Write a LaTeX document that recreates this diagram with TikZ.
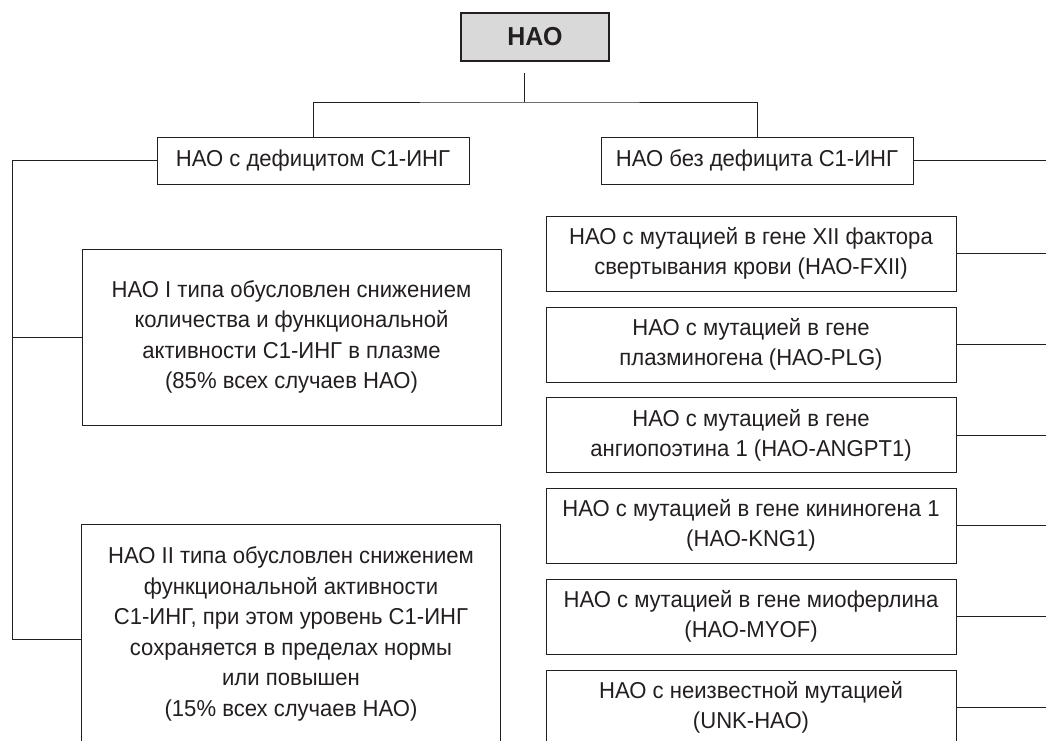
\documentclass[tikz,border=0pt]{standalone}
\usepackage{fontspec}
\setmainfont{Liberation Sans}[FakeStretch=0.96]
\definecolor{ink}{HTML}{231F20}
\definecolor{boxgray}{HTML}{D9D9D9}
\tikzset{
  head/.style={draw=ink, line width=1.6pt, fill=boxgray, minimum width=148pt, minimum height=48pt, text=ink, font=\fontsize{26}{30}\selectfont\bfseries},
  group/.style={draw=ink, line width=1pt, minimum width=312pt, minimum height=47pt, text=ink, font=\fontsize{23}{29.5}\selectfont},
  leaf/.style={draw=ink, line width=1pt, align=center, inner sep=0pt, minimum width=410pt, minimum height=75pt, text=ink, font=\fontsize{23}{30}\selectfont},
  wide/.style={leaf, minimum width=419pt, font=\fontsize{23}{30.5}\selectfont},
  link/.style={draw=ink, line width=1pt}
}
\begin{document}
\begin{tikzpicture}[x=1pt, y=-1pt]
    \useasboundingbox (0,0) rectangle (1046,740);
    % top level
    \node[head] (hao) at (535,37) {НАО};
    \node[group] (def) at (313,160.5) {НАО с дефицитом С1-ИНГ};
    \node[group] (nodef) at (757,160.5) {НАО без дефицита С1-ИНГ};
    \coordinate (top) at (524,73);
    \coordinate (fork) at (524,102);
    \draw[link] (top) -- (fork);
    \draw[link] (def.north) |- (fork) -| (nodef.north);
    % with deficit
    \node[wide, minimum height=176pt] (t1) at (291.5,337) {НАО I типа обусловлен снижением\\количества и функциональной\\активности С1-ИНГ в плазме\\(85\% всех случаев НАО)};
    \node[wide, minimum height=230pt] (t2) at (291,639) {НАО II типа обусловлен снижением\\функциональной активности\\С1-ИНГ, при этом уровень С1-ИНГ\\сохраняется в пределах нормы\\или повышен\\(15\% всех случаев НАО)\\[-16pt]};
    \coordinate (lbot) at (12,639);
    \draw[link] (def.west) -| (lbot) -- (t2.west);
    \draw[link] (t1.west) -- (t1.west -| lbot);
    % without deficit
    \node[leaf] (r1) at (751,253.5) {НАО с мутацией в гене XII фактора\\свертывания крови (НАО-FXII)};
    \node[leaf] (r2) at (751,344.5) {НАО с мутацией в гене\\плазминогена (НАО-PLG)};
    \node[leaf] (r3) at (751,435) {НАО с мутацией в гене\\ангиопоэтина 1 (НАО-ANGPT1)};
    \node[leaf] (r4) at (751,525.5) {НАО с мутацией в гене кининогена 1\\(НАО-KNG1)};
    \node[leaf] (r5) at (751,616.5) {НАО с мутацией в гене миоферлина\\(НАО-MYOF)};
    \node[leaf] (r6) at (751,707.5) {НАО с неизвестной мутацией\\(UNK-НАО)};
    \coordinate (redge) at (1046,160.5);
    \draw[link] (nodef.east) -- (redge);
    \draw[link] (r1.east) -- (r1.east -| redge);
    \draw[link] (r2.east) -- (r2.east -| redge);
    \draw[link] (r3.east) -- (r3.east -| redge);
    \draw[link] (r4.east) -- (r4.east -| redge);
    \draw[link] (r5.east) -- (r5.east -| redge);
    \draw[link] (r6.east) -- (r6.east -| redge);
\end{tikzpicture}
\end{document}
